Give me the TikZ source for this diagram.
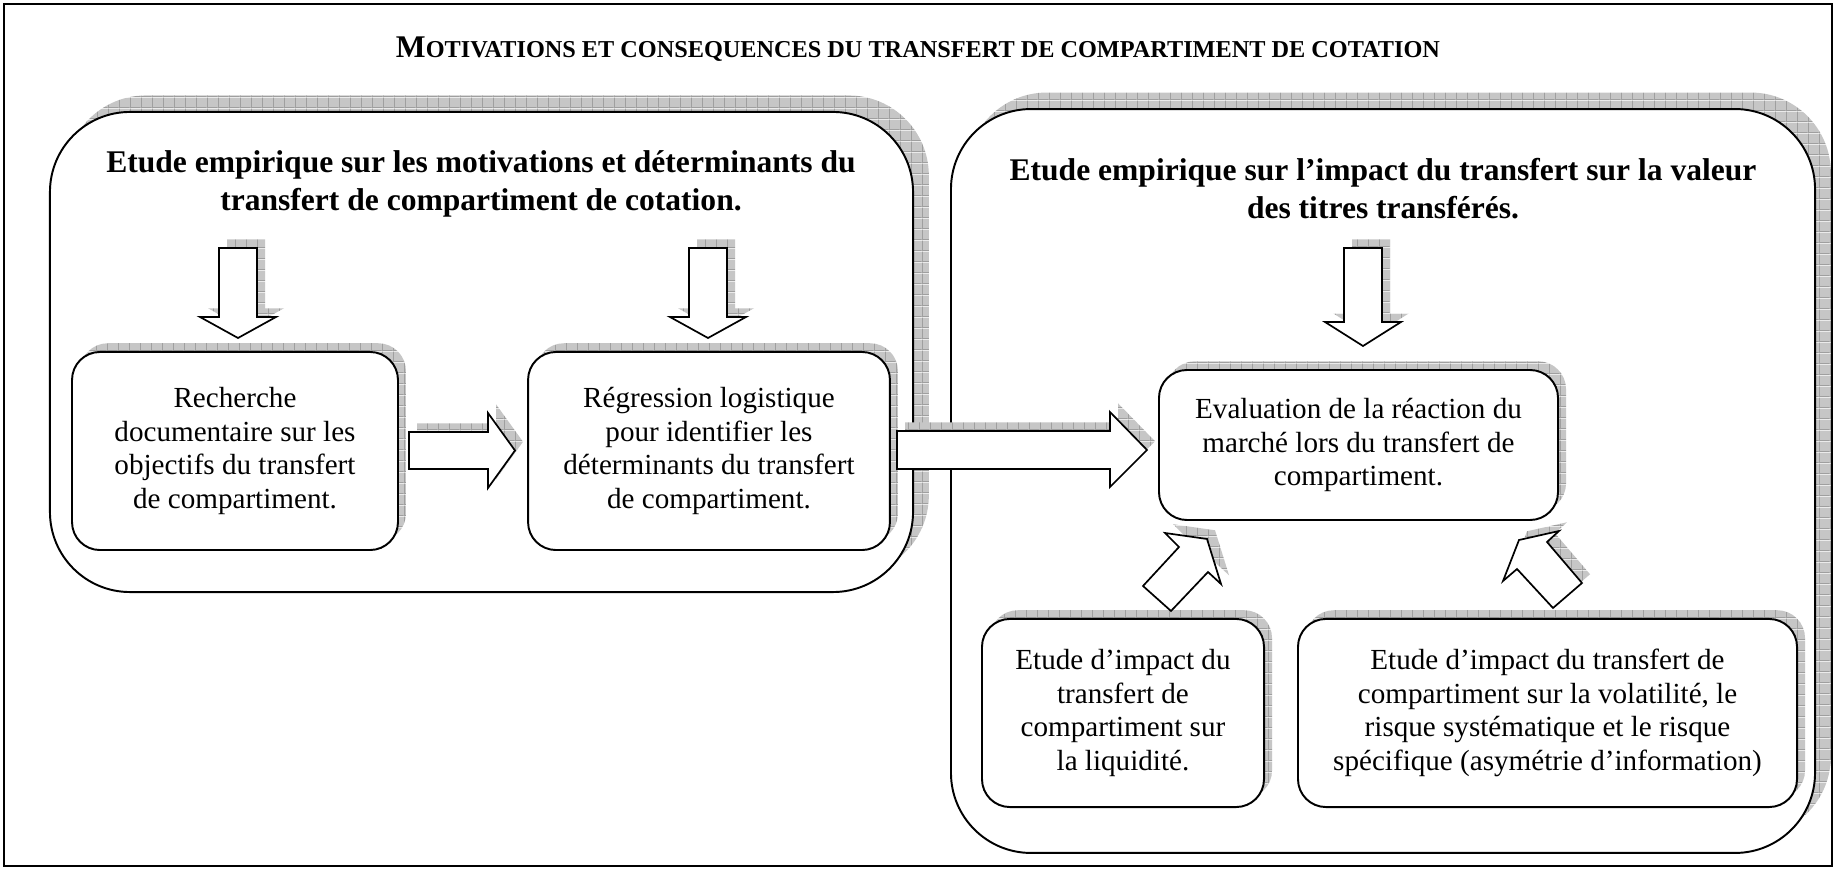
\documentclass[tikz,border=0pt]{standalone}
\usepackage{fontspec}
\setmainfont{Liberation Serif}
\usetikzlibrary{shadows,patterns.meta}

\newcommand{\petcap}[1]{{\fontsize{10}{12}\selectfont #1}}

\tikzdeclarepattern{
  name=grille,
  type=colored,
  bottom left={(0pt,0pt)},
  top right={(4.4pt,4.4pt)},
  tile size={(4.4pt,4.4pt)},
  code={
    \fill[gray!45] (0pt,0pt) rectangle (4.4pt,4.4pt);
    \draw[gray!75,line width=0.35pt] (0pt,0.2pt) -- (4.4pt,0.2pt) (0.2pt,0pt) -- (0.2pt,4.4pt);
  }
}

\tikzset{
  ombre/.style={drop shadow={shadow xshift=3.3pt,shadow yshift=3.6pt,pattern=grille,opacity=1}},
  grandeombre/.style={drop shadow={shadow xshift=6.5pt,shadow yshift=6.8pt,pattern=grille,opacity=1}},
  boite/.style={draw,fill=white,line width=0.8pt,rounded corners=11.5pt,ombre,align=center,inner sep=0pt,font=\fontsize{12}{13.8}\selectfont},
  grandeboite/.style={draw,fill=white,line width=0.8pt,rounded corners=33pt,grandeombre,inner sep=0pt},
  entete/.style={align=center,inner sep=0pt,font=\fontsize{13}{15.7}\selectfont\bfseries},
  fleche/.style={draw,fill=white,line width=0.7pt,line join=miter,ombre}
}

\begin{document}
\begin{tikzpicture}[x=0.412pt,y=-0.412pt]
\useasboundingbox (0,0) rectangle (1836,869);
\clip (0,0) rectangle (1836,869);

\draw[line width=0.6pt] (4,4) rectangle (1832,866);
\node[anchor=base,inner sep=0pt,font=\bfseries] (titre) at (918,58) {{\fontsize{13}{15}\selectfont M}\petcap{OTIVATIONS ET CONSEQUENCES DU TRANSFERT DE COMPARTIMENT DE COTATION}};

% les deux grands cadres
\node[grandeboite,minimum width=355.6pt,minimum height=197.8pt] (motiv) at (481.5,352) {};
\node[grandeboite,minimum width=356pt,minimum height=306.5pt] (impact) at (1383,481) {};

\node[entete] (tmotiv) at (481,184) {Etude empirique sur les motivations et déterminants du\\transfert de compartiment de cotation.};
\node[entete] (timpact) at (1383,189) {Etude empirique sur l’impact du transfert sur la valeur\\des titres transférés.};

% etapes
\node[boite,minimum width=134.3pt,minimum height=81.6pt] (recherche) at (235,451) {Recherche\\documentaire sur les\\objectifs du transfert\\de compartiment.};
\node[boite,minimum width=149.1pt,minimum height=81.6pt] (regression) at (709,451) {Régression logistique\\pour identifier les\\déterminants du transfert\\de compartiment.};
\node[boite,minimum width=164.4pt,minimum height=61.8pt] (evaluation) at (1358.5,445) {Evaluation de la réaction du\\marché lors du transfert de\\compartiment.};
\node[boite,minimum width=116.2pt,minimum height=77.5pt] (liquidite) at (1123,713) {Etude d’impact du\\transfert de\\compartiment sur\\la liquidité.};
\node[boite,minimum width=205.6pt,minimum height=77.5pt] (volatilite) at (1547.5,713) {Etude d’impact du transfert de\\compartiment sur la volatilité, le\\risque systématique et le risque\\spécifique (asymétrie d’information)};

% fleches vers le bas
\draw[fleche] (219,248) -- (257,248) -- (257,317) -- (276,317) -- (238,338) -- (200,317) -- (219,317) -- cycle;
\draw[fleche] (689,248) -- (727,248) -- (727,317) -- (746,317) -- (708,338) -- (670,317) -- (689,317) -- cycle;
\draw[fleche] (1344,248) -- (1382,248) -- (1382,322) -- (1401,322) -- (1363,346) -- (1325,322) -- (1344,322) -- cycle;

% fleches horizontales
\draw[fleche] (409,432) -- (488,432) -- (488,413) -- (515,450.5) -- (488,488) -- (488,469) -- (409,469) -- cycle;
\draw[fleche] (897,431) -- (1110,431) -- (1110,412) -- (1147,450) -- (1110,487) -- (1110,469) -- (897,469) -- cycle;

% fleches obliques
\draw[fleche] (1143,586) -- (1179,547) -- (1165,533) -- (1207,539) -- (1221,584) -- (1208,572) -- (1171,611) -- cycle;
\draw[fleche] (1582,583) -- (1547,542) -- (1559,531) -- (1519,540) -- (1503,581) -- (1517,569) -- (1553,608) -- cycle;

\end{tikzpicture}
\end{document}
